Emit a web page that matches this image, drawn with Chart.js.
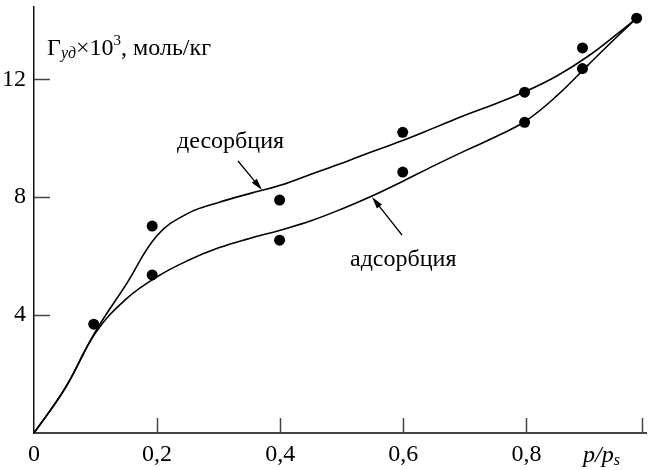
<!DOCTYPE html>
<html>
<head>
<meta charset="utf-8">
<script src="https://cdn.jsdelivr.net/npm/chart.js@4/dist/chart.umd.min.js"></script>
<style>
  html, body { margin: 0; padding: 0; background: #fff; }
  #wrap { width: 652px; height: 470px; }
</style>
</head>
<body>
<div id="wrap"><canvas id="isotherm"></canvas></div>
<script>
var curveX = [0, 0.05, 0.1, 0.15, 0.2, 0.25, 0.3, 0.35, 0.4, 0.45, 0.5, 0.55, 0.6, 0.65, 0.7, 0.75, 0.8, 0.85, 0.9, 0.95, 0.979];
var adsorptionY = [0, 1.5, 3.4, 4.55, 5.3, 5.85, 6.28, 6.6, 6.88, 7.2, 7.6, 8.05, 8.55, 9.07, 9.57, 10.05, 10.6, 11.45, 12.48, 13.5, 14.07];
var desorptionY = [0, 1.5, 3.45, 5.05, 6.7, 7.45, 7.82, 8.12, 8.4, 8.78, 9.15, 9.55, 9.93, 10.35, 10.78, 11.17, 11.6, 12.12, 12.78, 13.58, 14.07];

// measured points
var pointX = [0.097, 0.192, 0.192, 0.399, 0.399, 0.599, 0.599, 0.797, 0.797, 0.891, 0.891, 0.979];
var pointY = [3.69, 5.36, 7.02, 7.9, 6.54, 10.2, 8.85, 11.56, 10.54, 13.06, 12.36, 14.07];

var xTicks = [0, 0.2, 0.4, 0.6, 0.8];
var yTicks = [4, 8, 12];

var serif = '"Liberation Serif", "Times New Roman", serif';
var axisColor = '#444';

function toPoints(xs, ys) {
    var arr = [];
    for (var i = 0; i < xs.length; i++) {
        arr.push({ x: xs[i], y: ys[i] });
    }
    return arr;
}

function drawArrow(ctx, x1, y1, x2, y2) {
    var ang = Math.atan2(y2 - y1, x2 - x1);
    var len = 12, half = 3.2;
    ctx.beginPath();
    ctx.moveTo(x1, y1);
    ctx.lineTo(x2 - Math.cos(ang) * len * 0.8, y2 - Math.sin(ang) * len * 0.8);
    ctx.stroke();
    ctx.beginPath();
    ctx.moveTo(x2, y2);
    ctx.lineTo(x2 - Math.cos(ang) * len - Math.sin(ang) * half, y2 - Math.sin(ang) * len + Math.cos(ang) * half);
    ctx.lineTo(x2 - Math.cos(ang) * len + Math.sin(ang) * half, y2 - Math.sin(ang) * len - Math.cos(ang) * half);
    ctx.closePath();
    ctx.fill();
}

// inner tick marks, axis titles, curve labels
var decorations = {
    id: 'decorations',
    afterDraw: function(chart) {
        var ctx = chart.ctx;
        var xs = chart.scales.x, ys = chart.scales.y;
        var left = chart.chartArea.left, bottom = chart.chartArea.bottom;
        ctx.save();
        ctx.strokeStyle = axisColor;
        ctx.lineWidth = 1.5;
        yTicks.forEach(function(v) {
            var py = Math.round(ys.getPixelForValue(v)) + 0.5;
            ctx.beginPath();
            ctx.moveTo(left, py);
            ctx.lineTo(left + 16, py);
            ctx.stroke();
        });
        xTicks.slice(1).concat([0.988]).forEach(function(v) {
            var px = Math.round(xs.getPixelForValue(v)) + 0.5;
            ctx.beginPath();
            ctx.moveTo(px, bottom);
            ctx.lineTo(px, bottom - 15);
            ctx.stroke();
        });

        ctx.fillStyle = '#000';
        ctx.strokeStyle = '#000';
        ctx.textBaseline = 'alphabetic';
        ctx.textAlign = 'left';

        // y axis title: Γуд×10³, моль/кг
        var x = 47, base = 55;
        ctx.font = '24px ' + serif;
        ctx.fillText('Γ', x, base); x += ctx.measureText('Γ').width;
        ctx.font = 'italic 16px ' + serif;
        ctx.fillText('уд', x, base + 3); x += ctx.measureText('уд').width;
        ctx.font = '24px ' + serif;
        ctx.fillText('×10', x, base); x += ctx.measureText('×10').width;
        ctx.font = '15px ' + serif;
        ctx.fillText('3', x, base - 10); x += ctx.measureText('3').width;
        ctx.font = '24px ' + serif;
        ctx.fillText(', моль/кг', x, base);

        // x axis title: p/ps
        x = 583; base = 462;
        ctx.font = 'italic 24px ' + serif;
        ctx.fillText('p/p', x, base); x += ctx.measureText('p/p').width;
        ctx.font = 'italic 16px ' + serif;
        ctx.fillText('s', x, base + 3);

        // curve labels with arrows
        ctx.font = '24px ' + serif;
        ctx.fillText('десорбция', 177, 148);
        ctx.fillText('адсорбция', 350, 266);
        ctx.lineWidth = 1.3;
        drawArrow(ctx, 238, 161, 262, 190);
        drawArrow(ctx, 402, 235, 372, 197);
        ctx.restore();
    }
};

var chart = new Chart(document.getElementById('isotherm'), {
    type: 'scatter',
    data: {
        datasets: [
            {
                label: 'адсорбция',
                data: toPoints(curveX, adsorptionY),
                showLine: true,
                borderColor: '#000',
                borderWidth: 1.6,
                pointRadius: 0,
                tension: 0.4
            },
            {
                label: 'десорбция',
                data: toPoints(curveX, desorptionY),
                showLine: true,
                borderColor: '#000',
                borderWidth: 1.6,
                pointRadius: 0,
                tension: 0.4
            },
            {
                label: 'точки',
                data: toPoints(pointX, pointY),
                showLine: false,
                pointRadius: 5.5,
                pointBackgroundColor: '#000',
                pointBorderWidth: 0
            }
        ]
    },
    options: {
        responsive: true,
        maintainAspectRatio: false,
        animation: false,
        layout: { padding: { top: 7, right: 0, left: 0, bottom: 0 } },
        plugins: {
            legend: { display: false },
            tooltip: { enabled: false }
        },
        scales: {
            x: {
                type: 'linear',
                min: 0,
                max: 0.995,
                grid: { display: false, drawTicks: false },
                border: { display: true, color: axisColor, width: 2 },
                afterBuildTicks: function(scale) {
                    scale.ticks = xTicks.map(function(v) { return { value: v }; });
                },
                afterFit: function(scale) {
                    scale.height = 37;
                    scale.paddingLeft = 0;
                    scale.paddingRight = 0;
                },
                ticks: {
                    color: '#000',
                    padding: 7,
                    maxRotation: 0,
                    autoSkip: false,
                    font: { family: serif, size: 24 },
                    callback: function(v) { return v === 0 ? '0' : String(v).replace('.', ','); }
                }
            },
            y: {
                min: 0,
                max: 14.45,
                grid: { display: false, drawTicks: false },
                border: { display: true, color: '#111', width: 1.5 },
                afterBuildTicks: function(scale) {
                    scale.ticks = yTicks.map(function(v) { return { value: v }; });
                },
                afterFit: function(scale) {
                    scale.width = 34;
                    scale.paddingTop = 0;
                    scale.paddingBottom = 0;
                },
                ticks: {
                    color: '#000',
                    padding: 8,
                    font: { family: serif, size: 24 }
                }
            }
        }
    },
    plugins: [decorations]
});
</script>
</body>
</html>
